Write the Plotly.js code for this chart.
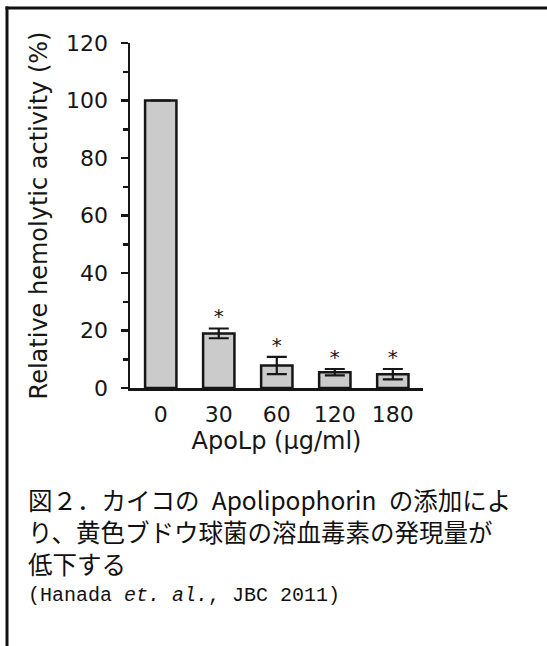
<!DOCTYPE html>
<html>
<head>
<meta charset="utf-8">
<script src="https://cdn.plot.ly/plotly-3.0.1.min.js"></script>
<style>
html,body{margin:0;padding:0;background:#fff;overflow:hidden}
#chart{width:547px;height:646px}
</style>
</head>
<body>
<div id="chart"></div>
<script>
// ---- data ----
const categories = ['0', '30', '60', '120', '180'];
const activity = [100, 19.0, 7.8, 5.5, 4.8];
const errors = [0, 1.7, 3.0, 1.1, 1.8];
const significant = [false, true, true, true, true];
const xTitle = 'ApoLp (µg/ml)';
const yTitle = 'Relative hemolytic activity (%)';
const captionLines = [
  '図２．カイコの\u2002Apolipophorin\u2002の添加によ',
  'り、黄色ブドウ球菌の溶血毒素の発現量が',
  '低下する'
];
const citation = '(Hanada <i>et. al.</i>, JBC 2011)';

// ---- layout geometry (pixels) ----
const W = 547, H = 646;
const ml = 130, mr = 124, mt = 43, mb = 258;
const pw = W - ml - mr, ph = H - mt - mb;
const px = x => (x - ml) / pw;
const py = y => (H - mb - y) / ph;

const ink = '#161616';
const axisFont = {family: 'DejaVu Sans', size: 22, color: ink};
const titleFont = {family: 'DejaVu Sans', size: 24, color: ink};

const bars = {
  type: 'bar',
  x: categories,
  y: activity,
  marker: {color: '#cbcbcb', line: {color: ink, width: 2.5}},
  error_y: {type: 'data', array: errors, visible: true, color: ink, thickness: 2.2, width: 10},
  hoverinfo: 'skip',
  showlegend: false
};

const starX = [], starY = [];
categories.forEach((c, i) => { if (significant[i]) { starX.push(c); starY.push(activity[i] + errors[i]); } });
const stars = {
  type: 'scatter', mode: 'text',
  x: starX, y: starY,
  text: starX.map(() => '*'),
  textposition: 'top center',
  textfont: {family: 'DejaVu Sans', size: 20, color: ink},
  hoverinfo: 'skip', showlegend: false, cliponaxis: false
};

const caption = {
  xref: 'paper', yref: 'paper',
  x: px(26), y: py(480),
  xanchor: 'left', yanchor: 'top',
  showarrow: false, align: 'left',
  text: captionLines.join('<br>'),
  font: {family: 'Noto Sans CJK JP', size: 24.5, color: '#111'}
};
const cite = {
  xref: 'paper', yref: 'paper',
  x: px(26), y: py(595),
  xanchor: 'left', yanchor: 'middle',
  showarrow: false, align: 'left',
  text: citation,
  font: {family: 'Liberation Mono', size: 20, color: '#111'}
};

const shapes = [
  {type: 'line', xref: 'paper', yref: 'paper', x0: px(5.5), x1: px(W + 2), y0: py(8), y1: py(8), line: {color: '#111', width: 3}},
  {type: 'line', xref: 'paper', yref: 'paper', x0: px(7), x1: px(7), y0: py(6.5), y1: py(H + 2), line: {color: '#111', width: 3}}
];

const layout = {
  width: W, height: H,
  margin: {l: ml, r: mr, t: mt, b: mb, pad: 0},
  paper_bgcolor: '#fff', plot_bgcolor: '#fff',
  bargap: 0.46,
  showlegend: false,
  xaxis: {
    type: 'category',
    range: [-0.53, 4.52],
    showline: true, linecolor: ink, linewidth: 2.5,
    ticks: '', showgrid: false, zeroline: false,
    tickfont: axisFont,
    ticklabelstandoff: 5,
    title: {text: xTitle, font: titleFont, standoff: 4},
    fixedrange: true
  },
  yaxis: {
    range: [0, 120],
    tick0: 0, dtick: 20,
    ticks: 'outside', ticklen: 7, tickwidth: 2.5, tickcolor: ink,
    minor: {tick0: 0, dtick: 10, ticks: 'outside', ticklen: 5, tickwidth: 2.5, tickcolor: ink, showgrid: false},
    showline: true, linecolor: ink, linewidth: 2.5,
    showgrid: false, zeroline: false,
    tickfont: axisFont,
    ticklabelstandoff: 8,
    title: {text: yTitle, font: titleFont, standoff: 12},
    fixedrange: true
  },
  annotations: [caption, cite],
  shapes: shapes
};

Plotly.newPlot('chart', [bars, stars], layout, {displayModeBar: false, staticPlot: true});
</script>
</body>
</html>
